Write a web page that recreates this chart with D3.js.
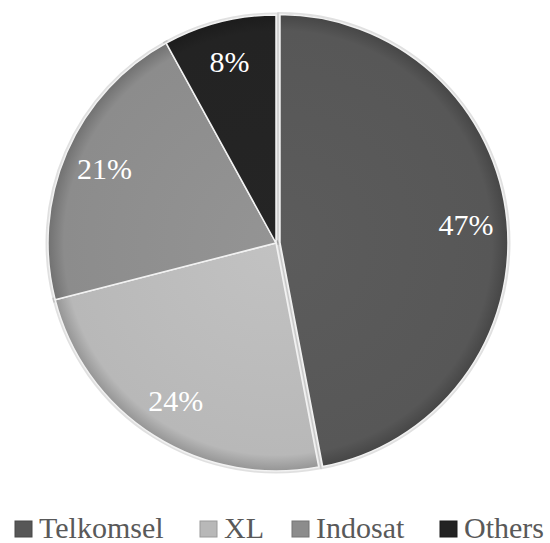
<!DOCTYPE html>
<html>
<head>
<meta charset="utf-8">
<script src="https://cdn.jsdelivr.net/npm/d3@7"></script>
</head>
<body style="margin:0">
<script>
const categories = ['Telkomsel', 'XL', 'Indosat', 'Others'];
const values = [47, 24, 21, 8];
const colors = ['#575757', '#b8b8b8', '#8c8c8c', '#232323'];
const explode = [4, 0, 0, 0];
const legendX = [15, 200, 292, 440];

const width = 550, height = 543;
const cx = 276, cy = 243, r = 228;
const fontOf = () => '"Times New Roman"';

const svg = d3.select('body').append('svg')
    .attr('width', width)
    .attr('height', height);

const defs = svg.append('defs');

// bevel: darker near the rim
colors.forEach((c, i) => {
    const g = defs.append('radialGradient').attr('id', 'grad' + i)
        .attr('gradientUnits', 'userSpaceOnUse')
        .attr('cx', 0).attr('cy', 0).attr('r', r);
    g.append('stop').attr('offset', '0%').attr('stop-color', d3.color(c).brighter(0.15));
    g.append('stop').attr('offset', '93%').attr('stop-color', c);
    g.append('stop').attr('offset', '100%').attr('stop-color', d3.color(c).darker(0.6));
});

const pie = d3.pie().sort(null).value(d => d);
const arcs = pie(values);

const arc = d3.arc().innerRadius(0).outerRadius(r);
const labelArc = d3.arc().innerRadius(r * 0.82).outerRadius(r * 0.82);
const shift = (d, i) => {
    const a = (d.startAngle + d.endAngle) / 2;
    return [Math.sin(a) * explode[i], -Math.cos(a) * explode[i]];
};

const g = svg.append('g').attr('transform', `translate(${cx},${cy})`);

// faint halo in place of a drop shadow
g.selectAll('path.halo')
    .data(arcs)
    .enter().append('path')
    .attr('class', 'halo')
    .attr('transform', (d, i) => `translate(${shift(d, i)})`)
    .attr('d', arc)
    .attr('fill', 'none')
    .attr('stroke', '#000')
    .attr('stroke-opacity', 0.12)
    .attr('stroke-width', 5);

g.selectAll('path.slice')
    .data(arcs)
    .enter().append('path')
    .attr('class', 'slice')
    .attr('transform', (d, i) => `translate(${shift(d, i)})`)
    .attr('d', arc)
    .attr('fill', (d, i) => `url(#grad${i})`)
    .attr('stroke', '#f2f2f2')
    .attr('stroke-width', 1.5)
    .attr('stroke-linejoin', 'round');

svg.selectAll('text.pct')
    .data(arcs)
    .enter().append('text')
    .attr('class', 'pct')
    .attr('x', (d, i) => cx + labelArc.centroid(d)[0] + shift(d, i)[0])
    .attr('y', (d, i) => cy + labelArc.centroid(d)[1] + shift(d, i)[1] + 10)
    .attr('text-anchor', 'middle')
    .attr('fill', '#fff')
    .attr('font-size', 30)
    .attr('font-family', fontOf)
    .text(d => d.value + '%');

// legend
svg.selectAll('rect.key')
    .data(categories)
    .enter().append('rect')
    .attr('class', 'key')
    .attr('x', (d, i) => legendX[i]).attr('y', 521)
    .attr('width', 17).attr('height', 16)
    .attr('fill', (d, i) => colors[i])
    .attr('stroke', (d, i) => d3.color(colors[i]).darker(0.5))
    .attr('stroke-width', 1);

svg.selectAll('text.name')
    .data(categories)
    .enter().append('text')
    .attr('class', 'name')
    .attr('x', (d, i) => legendX[i] + 24)
    .attr('y', 538)
    .attr('fill', '#595959')
    .attr('font-size', 30)
    .attr('font-family', fontOf)
    .text(d => d);
</script>
</body>
</html>
